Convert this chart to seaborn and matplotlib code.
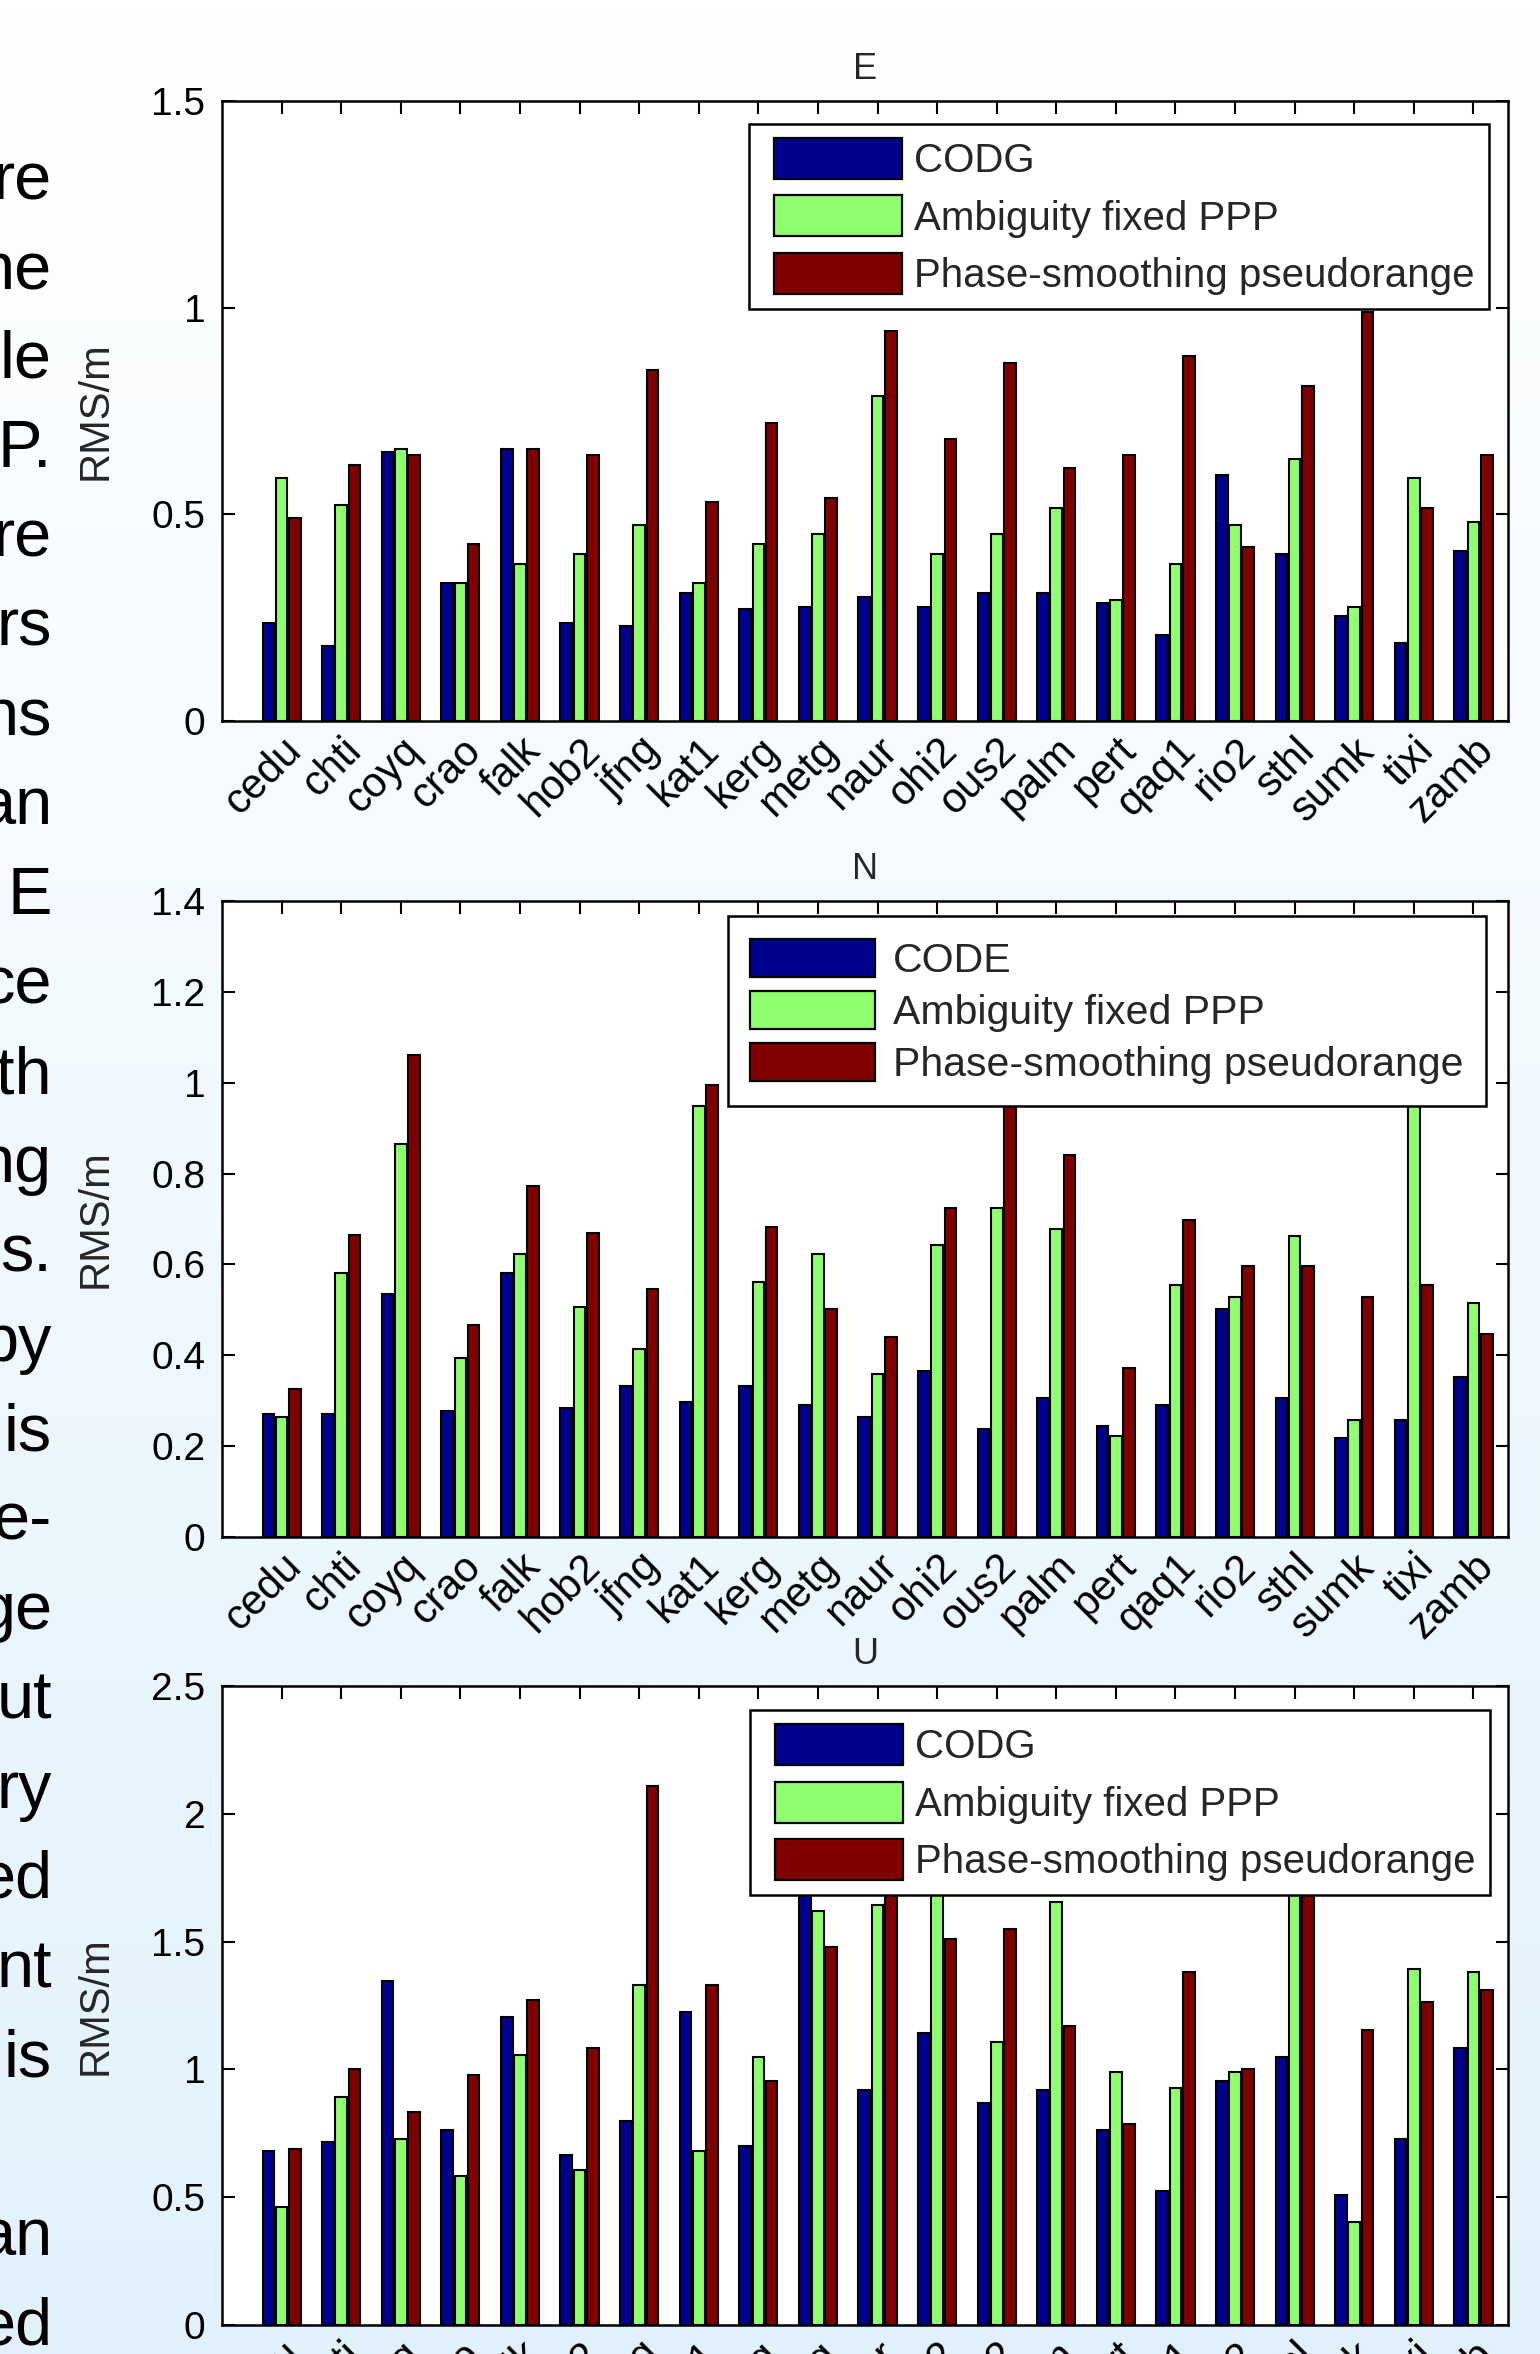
import numpy as np
import pandas as pd
import seaborn as sns
import matplotlib.pyplot as plt
import matplotlib.transforms as mtransforms
from matplotlib.patches import Patch, Rectangle
from matplotlib.legend_handler import HandlerPatch

# station names (x categories)
stations = ['cedu', 'chti', 'coyq', 'crao', 'falk', 'hob2', 'jfng', 'kat1', 'kerg', 'metg', 'naur',
            'ohi2', 'ous2', 'palm', 'pert', 'qaq1', 'rio2', 'sthl', 'sumk', 'tixi', 'zamb']

# E component RMS (m)
e_codg = [0.238, 0.182, 0.652, 0.333, 0.658, 0.238, 0.230, 0.310, 0.270, 0.277, 0.301,
          0.277, 0.310, 0.310, 0.286, 0.207, 0.594, 0.404, 0.253, 0.189, 0.412]
e_ppp = [0.588, 0.523, 0.658, 0.333, 0.379, 0.404, 0.475, 0.333, 0.429, 0.452, 0.786,
         0.404, 0.452, 0.515, 0.293, 0.381, 0.475, 0.634, 0.277, 0.588, 0.481]
e_psr = [0.492, 0.619, 0.643, 0.429, 0.658, 0.643, 0.849, 0.531, 0.722, 0.540, 0.944,
         0.682, 0.865, 0.611, 0.643, 0.882, 0.421, 0.810, 0.990, 0.515, 0.643]

# N component RMS (m)
n_code = [0.270, 0.270, 0.535, 0.277, 0.581, 0.285, 0.332, 0.298, 0.332, 0.291, 0.264,
          0.365, 0.237, 0.305, 0.244, 0.291, 0.502, 0.305, 0.217, 0.257, 0.352]
n_ppp = [0.264, 0.581, 0.866, 0.393, 0.622, 0.507, 0.413, 0.948, 0.562, 0.622, 0.359,
         0.642, 0.724, 0.677, 0.223, 0.555, 0.528, 0.663, 0.257, 1.050, 0.514]
n_psr = [0.326, 0.664, 1.062, 0.467, 0.773, 0.669, 0.547, 0.995, 0.683, 0.502, 0.440,
         0.724, 1.000, 0.840, 0.372, 0.697, 0.596, 0.596, 0.528, 0.555, 0.446]

# U component RMS (m)
u_codg = [0.680, 0.715, 1.346, 0.761, 1.204, 0.666, 0.798, 1.225, 0.702, 1.750, 0.919,
          1.144, 0.870, 0.919, 0.761, 0.524, 0.953, 1.048, 0.510, 0.727, 1.083]
u_ppp = [0.462, 0.893, 0.727, 0.583, 1.057, 0.606, 1.332, 0.680, 1.048, 1.619, 1.644,
         1.750, 1.109, 1.654, 0.988, 0.929, 0.988, 1.800, 0.403, 1.393, 1.381]
u_psr = [0.690, 1.000, 0.834, 0.978, 1.273, 1.083, 2.107, 1.332, 0.953, 1.478, 1.750,
         1.510, 1.548, 1.168, 0.787, 1.382, 1.000, 1.750, 1.156, 1.263, 1.311]

# clipped text of the neighbouring column on the slide
side_text = ['re', 'he', 'le', 'P.', 're', 'rs', 'ns', 'an', 'E', 'ce', 'th', 'ng', 's.', 'by',
             'is', 'e-', 'ge', 'ut', 'ry', 'ed', 'nt', 'is', '', 'an', 'ed']

colors = ['#00008f', '#8fff70', '#800000']

sns.set_theme(style='ticks')
plt.rcParams['font.family'] = ['Liberation Sans', 'DejaVu Sans']

W, H = 1540, 2354
fig = plt.figure(figsize=(W / 100, H / 100), dpi=100)

# light-blue slide gradient behind everything
bg = fig.add_axes([0, 0, 1, 1], zorder=-10)
grad = np.linspace(0, 1, 256)[:, None]
top_c = np.array([1.0, 1.0, 1.0])
bot_c = np.array([0.885, 0.948, 0.99])
img = top_c + (bot_c - top_c) * grad[:, :, None]
bg.imshow(img, aspect='auto', extent=[0, 1, 0, 1])
bg.set_axis_off()

for i, t in enumerate(side_text):
    y = 199 + 89.4 * i
    fig.text(52 / W, 1 - y / H, t, ha='right', va='baseline', fontsize=48, color='black')


class ShiftedPatch(HandlerPatch):
    # legend swatch pushed right inside its handle box (MATLAB-like left margin)
    def __init__(self, shift):
        super().__init__()
        self.shift = shift

    def create_artists(self, legend, orig_handle, xdescent, ydescent, width, height, fontsize, trans):
        p = Rectangle((-xdescent + self.shift, -ydescent), width - self.shift, height,
                      facecolor=orig_handle.get_facecolor(), edgecolor='black', linewidth=1.6,
                      transform=trans)
        return [p]


panels = [
    ('E', ['CODG', 'Ambiguity fixed PPP', 'Phase-smoothing pseudorange'], [e_codg, e_ppp, e_psr],
     1.5, [0, 0.5, 1, 1.5], ['0', '0.5', '1', '1.5'], (101, 721), (0.985, 0.963)),
    ('N', ['CODE', 'Ambiguity fixed PPP', 'Phase-smoothing pseudorange'], [n_code, n_ppp, n_psr],
     1.4, [0, 0.2, 0.4, 0.6, 0.8, 1, 1.2, 1.4], ['0', '0.2', '0.4', '0.6', '0.8', '1', '1.2', '1.4'],
     (901, 1537), (0.983, 0.976)),
    ('U', ['CODG', 'Ambiguity fixed PPP', 'Phase-smoothing pseudorange'], [u_codg, u_ppp, u_psr],
     2.5, [0, 0.5, 1, 1.5, 2, 2.5], ['0', '0.5', '1', '1.5', '2', '2.5'], (1686, 2325), (0.986, 0.962)),
]
# legend styling per panel: fontsize, handlelength, handleheight, labelspacing, borderpad, textpad, shift(pt)
leg_style = {
    'E': (29, 3.46, 1.19, 0.38, 0.35, 0.3, 8.0),
    'N': (29.5, 3.05, 1.05, 0.27, 0.55, 0.44, 0.0),
    'U': (29, 3.46, 1.19, 0.38, 0.35, 0.3, 8.0),
}

left_px, right_px = 222, 1508
for title, names, series, ymax, yt, ytl, (top_px, bot_px), anchor in panels:
    ax = fig.add_axes([left_px / W, 1 - bot_px / H, (right_px - left_px) / W, (bot_px - top_px) / H])
    df = pd.DataFrame({
        'station': stations * 3,
        'method': [n for n in names for _ in stations],
        'rms': [v for s in series for v in s],
    })
    sns.barplot(data=df, x='station', y='rms', hue='method', order=stations, hue_order=names,
                palette=colors, saturation=1, width=0.667, gap=0.12, edgecolor='black',
                linewidth=1.5, legend=False, ax=ax, errorbar=None)
    ax.set_facecolor('white')
    ax.set_xlim(-1, 20.58)
    ax.set_ylim(0, ymax)
    ax.set_yticks(yt)
    ax.set_yticklabels(ytl)
    ax.set_xticks(range(len(stations)))
    ax.tick_params(direction='in', top=True, right=True, length=9, width=1.5, colors='black')
    ax.tick_params(axis='y', pad=12, labelsize=28)
    ax.tick_params(axis='x', pad=17, labelsize=30)
    ax.set_xticklabels(stations, rotation=45, ha='right', va='center', rotation_mode='anchor')
    # shift the rotated labels right so their ends sit just right of the ticks
    off = mtransforms.ScaledTranslation(0.14, 0, fig.dpi_scale_trans)
    for lbl in ax.get_xticklabels():
        lbl.set_transform(lbl.get_transform() + off)
    for sp in ax.spines.values():
        sp.set_visible(True)
        sp.set_linewidth(1.8)
        sp.set_color('black')
    ax.set_xlabel('')
    ax.set_ylabel('RMS/m', fontsize=30, family=['Liberation Sans Narrow', 'Liberation Sans'])
    ax.yaxis.set_label_coords(-0.083, 0.5)
    ax.set_title(title, fontsize=26, pad=16)

    fs, hl, hh, ls, bp, tp, shift = leg_style[title]
    handles = [Patch(facecolor=c, edgecolor='black', label=n) for c, n in zip(colors, names)]
    leg = ax.legend(handles=handles, loc='upper right', bbox_to_anchor=anchor, borderaxespad=0,
                    fontsize=fs, handlelength=hl, handleheight=hh, handletextpad=tp,
                    labelspacing=ls, borderpad=bp, fancybox=False, framealpha=1,
                    edgecolor='black', handler_map={Patch: ShiftedPatch(shift)})
    leg.get_frame().set_linewidth(1.8)

fig.savefig('out.png', dpi=100)
